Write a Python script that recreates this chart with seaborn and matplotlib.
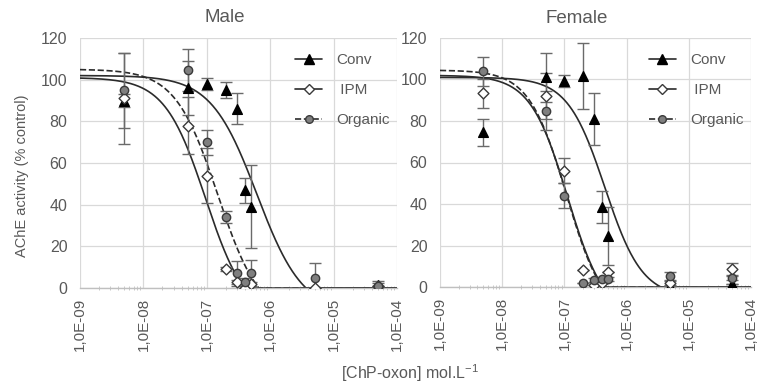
import numpy as np
import pandas as pd
import matplotlib
matplotlib.use("Agg")
import matplotlib.pyplot as plt
import matplotlib.ticker as mticker
from matplotlib.lines import Line2D
import seaborn as sns

# concentrations tested (mol/L)
conc = [5e-9, 5e-8, 1e-7, 2e-7, 3e-7, 4e-7, 5e-7, 5e-6, 5e-5]

male_conv = [90, 96, 98, 95, 86, 47, 39, 0, 1.5]
male_conv_err = [3, 13, 3, 4, 7.5, 6, 20, 0, 1]
male_ipm = [91, 78, 54, 9, 3, 0, 2, 0, 1]
male_ipm_err = [22, 13.5, 13, 1, 1, 0, 1, 0, 0]
male_org = [95, 104.5, 70, 34, 7, 3, 7, 5, 1]
male_org_err = [18, 10, 6, 3, 6, 2, 6.5, 7, 2.5]

female_conv = [74.5, 101, 99.3, 101.7, 81, 38.5, 24.7, 0.5, 1.6]
female_conv_err = [6.5, 12, 3, 16, 12.7, 7.7, 14, 0, 0]
female_ipm = [93.4, 92.2, 56, 8, 1, 2, 7, 2, 8.6]
female_ipm_err = [7, 11, 6, 0, 0, 0, 0, 1, 3]
female_org = [104, 85, 44, 2, 3.5, 3.7, 3.7, 5.3, 4.2]
female_org_err = [7, 9.4, 6, 0, 1, 1, 1, 2, 1]

# fitted dose-response parameters: top, bottom, log10(IC50), hill slope
male_fit = {"Conv": [102, -12, -6.21, 1.2],
            "IPM": [101, -15, -7.02, 1.35],
            "Organic": [105, -15, -6.83, 1.3]}
female_fit = {"Conv": [101, -5, -6.35, 1.45],
              "IPM": [102, -15, -6.95, 1.45],
              "Organic": [104.5, -15, -6.97, 1.45]}

groups = ["Conv", "IPM", "Organic"]
legend_labels = ["Conv", " IPM", "Organic"]

sns.set_theme(style="white")
plt.rcParams["font.family"] = ["Liberation Sans", "DejaVu Sans"]

gray_txt = "#595959"
curve_col = "#2b2b2b"
styles = {
    "Conv": dict(marker="^", mfc="black", mec="black", ms=7, ls="-"),
    "IPM": dict(marker="D", mfc="white", mec="#3a3a3a", ms=5.5, ls="-"),
    "Organic": dict(marker="o", mfc="#7f7f7f", mec="#3a3a3a", ms=6, ls="--"),
}


def dose_response(x, top, bottom, logic50, hill):
    y = bottom + (top - bottom) / (1 + 10 ** (hill * (np.log10(x) - logic50)))
    return np.clip(y, 0, None)


def draw_panel(ax, title, points, fits, title_x):
    xs = np.logspace(-9, -4, 500)
    for g in groups:
        curve = pd.DataFrame({"x": xs, "y": dose_response(xs, *fits[g])})
        sns.lineplot(data=curve, x="x", y="y", ax=ax, color=curve_col, lw=1.2,
                     linestyle=styles[g]["ls"], zorder=2)
    for g in groups:
        vals, errs = points[g]
        ax.errorbar(conc, vals, yerr=errs, fmt="none", ecolor="#6a6a6a",
                    elinewidth=1, capsize=4, capthick=1, zorder=3)
    for g in groups:
        vals, errs = points[g]
        df = pd.DataFrame({"x": conc, "y": vals})
        st = styles[g]
        sns.scatterplot(data=df, x="x", y="y", ax=ax, marker=st["marker"],
                        color=st["mfc"], edgecolor=st["mec"], linewidth=1,
                        s=st["ms"] ** 2, zorder=4)

    ax.set_xscale("log")
    ax.set_xlim(1e-9, 1e-4)
    ax.set_ylim(0, 120)
    ax.set_yticks(range(0, 121, 20))
    ax.xaxis.set_major_locator(mticker.LogLocator(base=10, numticks=10))
    ax.xaxis.set_minor_locator(mticker.LogLocator(base=10, subs=np.arange(2, 10), numticks=20))
    ax.xaxis.set_major_formatter(mticker.FuncFormatter(
        lambda v, p: ("%.1E" % v).replace(".", ",")))
    ax.xaxis.set_minor_formatter(mticker.NullFormatter())
    ax.grid(True, which="major", color="#d9d9d9", lw=0.9)
    ax.set_axisbelow(True)
    for s in ["top", "right", "left"]:
        ax.spines[s].set_visible(False)
    ax.spines["bottom"].set_color("#bfbfbf")
    ax.spines["bottom"].set_linewidth(1)
    ax.tick_params(axis="x", which="major", length=0, pad=7, labelsize=11,
                   labelcolor=gray_txt, labelrotation=90)
    ax.tick_params(axis="x", which="minor", length=3, width=0.6, color="#bfbfbf",
                   direction="inout", bottom=True)
    ax.tick_params(axis="y", length=0, pad=9, labelsize=11.5, labelcolor=gray_txt)
    ax.set_xlabel("")
    ax.set_ylabel("")
    ax.text(title_x, 1.08, title, transform=ax.transAxes, ha="center", va="center",
            fontsize=13.5, color=gray_txt)

    handles = [Line2D([0], [0], color=curve_col, lw=1.2, linestyle=styles[g]["ls"],
                      marker=styles[g]["marker"], mfc=styles[g]["mfc"],
                      mec=styles[g]["mec"], ms=styles[g]["ms"] - 0.5)
               for g in groups]
    ax.legend(handles, legend_labels, loc="upper right", bbox_to_anchor=(1.02, 0.995),
              frameon=False, fontsize=11, handlelength=1.8, labelspacing=1.05,
              handletextpad=0.9, labelcolor=gray_txt)


fig = plt.figure(figsize=(7.59, 3.89), dpi=100)
ax1 = fig.add_axes([80 / 759, 1 - 288 / 389, 317 / 759, 250 / 389])
ax2 = fig.add_axes([440 / 759, 1 - 287 / 389, 311 / 759, 249 / 389])

draw_panel(ax1, "Male",
           {"Conv": (male_conv, male_conv_err), "IPM": (male_ipm, male_ipm_err),
            "Organic": (male_org, male_org_err)}, male_fit, 0.457)
draw_panel(ax2, "Female",
           {"Conv": (female_conv, female_conv_err), "IPM": (female_ipm, female_ipm_err),
            "Organic": (female_org, female_org_err)}, female_fit, 0.44)

fig.text(22 / 759, 1 - 176 / 389, "AChE activity (% control)", rotation=90,
         ha="center", va="center", fontsize=10.5, color=gray_txt)
fig.text(410 / 759, 1 - 373 / 389, "[ChP-oxon] mol.L$^{\\mathregular{-1}}$",
         ha="center", va="center", fontsize=11.5, color=gray_txt)

fig.savefig("out.png", dpi=100)
